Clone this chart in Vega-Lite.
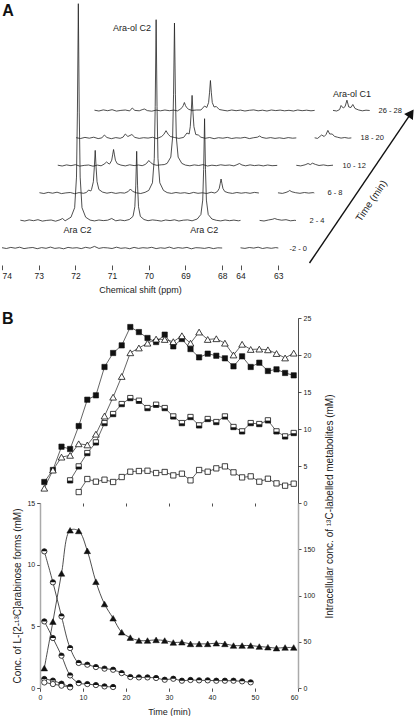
{
"$schema": "https://vega.github.io/schema/vega-lite/v6.json",
"padding": 0,
"background": "white",
"config": {
 "view": {"stroke": null},
 "font": "Liberation Sans",
 "axis": {"grid": false, "labelFont": "Liberation Sans", "titleFont": "Liberation Sans", "labelColor": "#222", "titleColor": "#222", "tickColor": "#222", "domainColor": "#222", "titleFontWeight": "normal", "labelOverlap": false, "tickWidth": 0.8, "domainWidth": 0.8},
 "text": {"font": "Liberation Sans", "color": "#222"}
},
"datasets": {
 "spectra": [
  {"s":"0a","d":74.00,"h":17.3},{"s":"0a","d":73.88,"h":16.5},{"s":"0a","d":73.76,"h":17.6},{"s":"0a","d":73.64,"h":16.8},{"s":"0a","d":73.52,"h":17.8},{"s":"0a","d":73.40,"h":16.4},{"s":"0a","d":73.28,"h":17.1},{"s":"0a","d":73.16,"h":17.5},{"s":"0a","d":73.04,"h":16.3},{"s":"0a","d":72.92,"h":17.4},{"s":"0a","d":72.80,"h":16.7},{"s":"0a","d":72.68,"h":17.9},{"s":"0a","d":72.56,"h":16.6},{"s":"0a","d":72.44,"h":17.2},{"s":"0a","d":72.32,"h":16.2},{"s":"0a","d":72.20,"h":17.6},{"s":"0a","d":72.08,"h":16.9},{"s":"0a","d":71.96,"h":17.3},{"s":"0a","d":71.84,"h":16.4},{"s":"0a","d":71.72,"h":17.7},{"s":"0a","d":71.60,"h":16.8},{"s":"0a","d":71.48,"h":18.6},{"s":"0a","d":71.36,"h":16.6},{"s":"0a","d":71.24,"h":17.4},{"s":"0a","d":71.12,"h":17.1},{"s":"0a","d":71.00,"h":16.5},{"s":"0a","d":70.88,"h":17.8},{"s":"0a","d":70.76,"h":16.7},{"s":"0a","d":70.64,"h":17.2},{"s":"0a","d":70.52,"h":16.3},{"s":"0a","d":70.40,"h":17.6},{"s":"0a","d":70.28,"h":16.6},{"s":"0a","d":70.16,"h":17.3},{"s":"0a","d":70.04,"h":16.9},{"s":"0a","d":69.92,"h":17.7},{"s":"0a","d":69.80,"h":16.4},{"s":"0a","d":69.68,"h":17.2},{"s":"0a","d":69.56,"h":16.7},{"s":"0a","d":69.44,"h":17.9},{"s":"0a","d":69.32,"h":16.5},{"s":"0a","d":69.20,"h":17.4},{"s":"0a","d":69.08,"h":16.8},{"s":"0a","d":68.96,"h":17.6},{"s":"0a","d":68.84,"h":16.2},{"s":"0a","d":68.72,"h":17.3},{"s":"0a","d":68.60,"h":17.1},{"s":"0a","d":68.48,"h":16.6},{"s":"0a","d":68.36,"h":17.5},{"s":"0a","d":68.24,"h":16.4},{"s":"0a","d":68.12,"h":17.2},{"s":"0a","d":68.00,"h":17.0},
  {"s":"0b","d":67.50,"h":17.2},{"s":"0b","d":67.38,"h":16.6},{"s":"0b","d":67.26,"h":17.5},{"s":"0b","d":67.14,"h":16.9},{"s":"0b","d":67.02,"h":17.8},{"s":"0b","d":66.90,"h":16.5},{"s":"0b","d":66.78,"h":17.3},{"s":"0b","d":66.66,"h":16.7},{"s":"0b","d":66.54,"h":17.4},{"s":"0b","d":66.47,"h":17.0},
  {"s":"1a","d":73.50,"h":44.8},{"s":"1a","d":73.38,"h":44.0},{"s":"1a","d":73.26,"h":45.1},{"s":"1a","d":73.14,"h":44.3},{"s":"1a","d":73.02,"h":45.3},{"s":"1a","d":72.90,"h":43.9},{"s":"1a","d":72.78,"h":44.6},{"s":"1a","d":72.66,"h":45.0},{"s":"1a","d":72.54,"h":43.8},{"s":"1a","d":72.42,"h":45.2},{"s":"1a","d":72.35,"h":46.5},{"s":"1a","d":72.28,"h":44.2},{"s":"1a","d":72.12,"h":47.8},{"s":"1a","d":72.02,"h":57.3},{"s":"1a","d":71.97,"h":87.9},{"s":"1a","d":71.945,"h":152.9},{"s":"1a","d":71.92,"h":261.3},{"s":"1a","d":71.895,"h":152.9},{"s":"1a","d":71.87,"h":87.9},{"s":"1a","d":71.82,"h":57.3},{"s":"1a","d":71.72,"h":47.8},{"s":"1a","d":71.60,"h":44.9},{"s":"1a","d":71.48,"h":44.1},{"s":"1a","d":71.36,"h":45.0},{"s":"1a","d":71.24,"h":44.4},{"s":"1a","d":71.12,"h":44.8},{"s":"1a","d":71.01,"h":46.5},{"s":"1a","d":70.90,"h":44.2},{"s":"1a","d":70.78,"h":45.0},{"s":"1a","d":70.66,"h":44.3},{"s":"1a","d":70.53,"h":45.5},{"s":"1a","d":70.43,"h":48.6},{"s":"1a","d":70.38,"h":58.3},{"s":"1a","d":70.355,"h":79.1},{"s":"1a","d":70.33,"h":113.7},{"s":"1a","d":70.305,"h":79.1},{"s":"1a","d":70.28,"h":58.3},{"s":"1a","d":70.23,"h":48.6},{"s":"1a","d":70.13,"h":45.5},{"s":"1a","d":70.02,"h":44.3},{"s":"1a","d":69.90,"h":45.1},{"s":"1a","d":69.78,"h":44.6},{"s":"1a","d":69.66,"h":43.9},{"s":"1a","d":69.54,"h":45.0},{"s":"1a","d":69.42,"h":44.4},{"s":"1a","d":69.30,"h":45.2},{"s":"1a","d":69.18,"h":44.0},{"s":"1a","d":69.06,"h":44.8},{"s":"1a","d":68.94,"h":45.1},{"s":"1a","d":68.82,"h":44.2},{"s":"1a","d":68.68,"h":46.0},{"s":"1a","d":68.58,"h":50.5},{"s":"1a","d":68.53,"h":64.9},{"s":"1a","d":68.505,"h":95.4},{"s":"1a","d":68.48,"h":146.3},{"s":"1a","d":68.455,"h":95.4},{"s":"1a","d":68.43,"h":64.9},{"s":"1a","d":68.38,"h":50.5},{"s":"1a","d":68.28,"h":46.0},{"s":"1a","d":68.16,"h":44.7},{"s":"1a","d":68.04,"h":44.1},{"s":"1a","d":67.92,"h":45.0},{"s":"1a","d":67.80,"h":44.3},{"s":"1a","d":67.68,"h":44.9},{"s":"1a","d":67.56,"h":44.2},{"s":"1a","d":67.50,"h":44.6},
  {"s":"1b","d":66.98,"h":44.6},{"s":"1b","d":66.86,"h":44.0},{"s":"1b","d":66.74,"h":45.0},{"s":"1b","d":66.62,"h":45.8},{"s":"1b","d":66.57,"h":46.5},{"s":"1b","d":66.50,"h":45.6},{"s":"1b","d":66.38,"h":44.8},{"s":"1b","d":66.26,"h":45.3},{"s":"1b","d":66.14,"h":44.2},{"s":"1b","d":66.02,"h":44.7},{"s":"1b","d":65.99,"h":44.5},
  {"s":"2a","d":72.98,"h":72.3},{"s":"2a","d":72.86,"h":71.5},{"s":"2a","d":72.74,"h":72.6},{"s":"2a","d":72.62,"h":71.8},{"s":"2a","d":72.50,"h":72.8},{"s":"2a","d":72.38,"h":71.4},{"s":"2a","d":72.26,"h":72.1},{"s":"2a","d":72.14,"h":72.5},{"s":"2a","d":72.02,"h":71.3},{"s":"2a","d":71.90,"h":72.4},{"s":"2a","d":71.78,"h":71.7},{"s":"2a","d":71.70,"h":72.5},{"s":"2a","d":71.64,"h":75.0},{"s":"2a","d":71.58,"h":74.0},{"s":"2a","d":71.56,"h":75.5},{"s":"2a","d":71.51,"h":83.3},{"s":"2a","d":71.485,"h":97.1},{"s":"2a","d":71.46,"h":114.6},{"s":"2a","d":71.435,"h":97.1},{"s":"2a","d":71.41,"h":83.3},{"s":"2a","d":71.36,"h":75.5},{"s":"2a","d":71.26,"h":72.9},{"s":"2a","d":71.14,"h":71.8},{"s":"2a","d":71.02,"h":72.6},{"s":"2a","d":70.90,"h":71.6},{"s":"2a","d":70.78,"h":72.3},{"s":"2a","d":70.66,"h":71.9},{"s":"2a","d":70.56,"h":73.5},{"s":"2a","d":70.50,"h":76.0},{"s":"2a","d":70.44,"h":73.6},{"s":"2a","d":70.34,"h":72.2},{"s":"2a","d":70.22,"h":71.5},{"s":"2a","d":70.10,"h":72.7},{"s":"2a","d":70.00,"h":74.6},{"s":"2a","d":69.90,"h":82.2},{"s":"2a","d":69.85,"h":106.7},{"s":"2a","d":69.825,"h":158.7},{"s":"2a","d":69.80,"h":245.3},{"s":"2a","d":69.775,"h":158.7},{"s":"2a","d":69.75,"h":106.7},{"s":"2a","d":69.70,"h":82.2},{"s":"2a","d":69.60,"h":74.6},{"s":"2a","d":69.50,"h":72.4},{"s":"2a","d":69.38,"h":71.6},{"s":"2a","d":69.26,"h":72.5},{"s":"2a","d":69.14,"h":71.8},{"s":"2a","d":69.02,"h":72.3},{"s":"2a","d":68.90,"h":71.4},{"s":"2a","d":68.78,"h":72.6},{"s":"2a","d":68.66,"h":71.7},{"s":"2a","d":68.54,"h":72.2},{"s":"2a","d":68.42,"h":71.5},{"s":"2a","d":68.30,"h":72.8},{"s":"2a","d":68.20,"h":72.0},{"s":"2a","d":68.13,"h":73.5},{"s":"2a","d":68.08,"h":76.6},{"s":"2a","d":68.055,"h":81.2},{"s":"2a","d":68.03,"h":86.0},{"s":"2a","d":68.005,"h":81.2},{"s":"2a","d":67.98,"h":76.6},{"s":"2a","d":67.93,"h":73.5},{"s":"2a","d":67.84,"h":72.3},{"s":"2a","d":67.72,"h":71.6},{"s":"2a","d":67.60,"h":72.5},{"s":"2a","d":67.48,"h":71.8},{"s":"2a","d":67.36,"h":72.4},{"s":"2a","d":67.24,"h":71.7},{"s":"2a","d":67.12,"h":72.6},{"s":"2a","d":67.00,"h":72.0},
  {"s":"2b","d":66.48,"h":72.2},{"s":"2b","d":66.36,"h":71.6},{"s":"2b","d":66.26,"h":72.6},{"s":"2b","d":66.20,"h":73.5},{"s":"2b","d":66.16,"h":74.5},{"s":"2b","d":66.10,"h":73.2},{"s":"2b","d":66.00,"h":72.3},{"s":"2b","d":65.88,"h":71.7},{"s":"2b","d":65.76,"h":72.5},{"s":"2b","d":65.64,"h":71.9},{"s":"2b","d":65.52,"h":72.4},{"s":"2b","d":65.49,"h":72.0},
  {"s":"3a","d":72.48,"h":99.8},{"s":"3a","d":72.36,"h":99.0},{"s":"3a","d":72.24,"h":100.1},{"s":"3a","d":72.12,"h":99.3},{"s":"3a","d":72.00,"h":100.3},{"s":"3a","d":71.88,"h":98.9},{"s":"3a","d":71.76,"h":99.6},{"s":"3a","d":71.64,"h":100.0},{"s":"3a","d":71.52,"h":98.8},{"s":"3a","d":71.40,"h":99.9},{"s":"3a","d":71.30,"h":99.2},{"s":"3a","d":71.22,"h":100.8},{"s":"3a","d":71.15,"h":103.0},{"s":"3a","d":71.08,"h":101.0},{"s":"3a","d":71.06,"h":101.3},{"s":"3a","d":71.01,"h":104.8},{"s":"3a","d":70.985,"h":110.1},{"s":"3a","d":70.96,"h":115.5},{"s":"3a","d":70.935,"h":110.1},{"s":"3a","d":70.91,"h":104.8},{"s":"3a","d":70.86,"h":101.3},{"s":"3a","d":70.76,"h":99.9},{"s":"3a","d":70.64,"h":99.1},{"s":"3a","d":70.52,"h":100.2},{"s":"3a","d":70.40,"h":99.4},{"s":"3a","d":70.28,"h":100.0},{"s":"3a","d":70.18,"h":99.3},{"s":"3a","d":70.10,"h":100.5},{"s":"3a","d":70.05,"h":102.0},{"s":"3a","d":70.00,"h":104.5},{"s":"3a","d":69.95,"h":102.5},{"s":"3a","d":69.88,"h":100.6},{"s":"3a","d":69.78,"h":99.7},{"s":"3a","d":69.66,"h":100.2},{"s":"3a","d":69.58,"h":100.4},{"s":"3a","d":69.50,"h":101.6},{"s":"3a","d":69.40,"h":107.9},{"s":"3a","d":69.35,"h":128.0},{"s":"3a","d":69.325,"h":170.8},{"s":"3a","d":69.30,"h":242.0},{"s":"3a","d":69.275,"h":170.8},{"s":"3a","d":69.25,"h":128.0},{"s":"3a","d":69.20,"h":107.9},{"s":"3a","d":69.10,"h":101.6},{"s":"3a","d":69.00,"h":99.9},{"s":"3a","d":68.88,"h":99.2},{"s":"3a","d":68.76,"h":100.1},{"s":"3a","d":68.64,"h":99.5},{"s":"3a","d":68.52,"h":100.4},{"s":"3a","d":68.40,"h":99.0},{"s":"3a","d":68.28,"h":99.8},{"s":"3a","d":68.16,"h":99.3},{"s":"3a","d":68.04,"h":100.2},{"s":"3a","d":67.92,"h":99.6},{"s":"3a","d":67.80,"h":100.0},{"s":"3a","d":67.68,"h":99.1},{"s":"3a","d":67.60,"h":100.3},{"s":"3a","d":67.53,"h":101.5},{"s":"3a","d":67.46,"h":100.0},{"s":"3a","d":67.36,"h":99.2},{"s":"3a","d":67.24,"h":100.1},{"s":"3a","d":67.12,"h":99.4},{"s":"3a","d":67.00,"h":99.9},{"s":"3a","d":66.88,"h":99.1},{"s":"3a","d":66.76,"h":100.0},{"s":"3a","d":66.64,"h":99.3},{"s":"3a","d":66.50,"h":99.6},
  {"s":"3b","d":65.98,"h":99.7},{"s":"3b","d":65.86,"h":99.1},{"s":"3b","d":65.74,"h":100.2},{"s":"3b","d":65.66,"h":101.5},{"s":"3b","d":65.60,"h":100.4},{"s":"3b","d":65.54,"h":101.8},{"s":"3b","d":65.46,"h":100.6},{"s":"3b","d":65.36,"h":99.5},{"s":"3b","d":65.24,"h":100.1},{"s":"3b","d":65.12,"h":99.3},{"s":"3b","d":64.98,"h":99.8},
  {"s":"4a","d":71.98,"h":127.3},{"s":"4a","d":71.86,"h":126.5},{"s":"4a","d":71.74,"h":127.6},{"s":"4a","d":71.62,"h":126.8},{"s":"4a","d":71.50,"h":127.8},{"s":"4a","d":71.38,"h":126.4},{"s":"4a","d":71.28,"h":127.1},{"s":"4a","d":71.21,"h":130.0},{"s":"4a","d":71.14,"h":127.5},{"s":"4a","d":71.02,"h":126.3},{"s":"4a","d":70.90,"h":127.4},{"s":"4a","d":70.78,"h":126.7},{"s":"4a","d":70.70,"h":127.9},{"s":"4a","d":70.64,"h":131.0},{"s":"4a","d":70.57,"h":128.5},{"s":"4a","d":70.46,"h":130.5},{"s":"4a","d":70.38,"h":127.6},{"s":"4a","d":70.26,"h":126.6},{"s":"4a","d":70.14,"h":127.3},{"s":"4a","d":70.02,"h":126.9},{"s":"4a","d":69.90,"h":127.7},{"s":"4a","d":69.78,"h":126.4},{"s":"4a","d":69.65,"h":128.5},{"s":"4a","d":69.59,"h":130.6},{"s":"4a","d":69.53,"h":134.3},{"s":"4a","d":69.47,"h":130.6},{"s":"4a","d":69.41,"h":128.5},{"s":"4a","d":69.30,"h":127.5},{"s":"4a","d":69.18,"h":126.6},{"s":"4a","d":69.05,"h":127.6},{"s":"4a","d":68.96,"h":132.0},{"s":"4a","d":68.90,"h":131.0},{"s":"4a","d":68.87,"h":138.3},{"s":"4a","d":68.845,"h":152.1},{"s":"4a","d":68.82,"h":169.6},{"s":"4a","d":68.795,"h":152.1},{"s":"4a","d":68.77,"h":138.3},{"s":"4a","d":68.72,"h":130.5},{"s":"4a","d":68.65,"h":130.0},{"s":"4a","d":68.58,"h":127.8},{"s":"4a","d":68.46,"h":126.7},{"s":"4a","d":68.34,"h":127.5},{"s":"4a","d":68.22,"h":126.3},{"s":"4a","d":68.10,"h":127.3},{"s":"4a","d":67.98,"h":126.8},{"s":"4a","d":67.86,"h":127.6},{"s":"4a","d":67.74,"h":126.5},{"s":"4a","d":67.62,"h":127.2},{"s":"4a","d":67.50,"h":126.9},{"s":"4a","d":67.38,"h":127.7},{"s":"4a","d":67.26,"h":126.4},{"s":"4a","d":67.14,"h":127.3},{"s":"4a","d":67.04,"h":127.8},{"s":"4a","d":66.98,"h":129.0},{"s":"4a","d":66.92,"h":127.6},{"s":"4a","d":66.80,"h":126.7},{"s":"4a","d":66.68,"h":127.4},{"s":"4a","d":66.56,"h":126.6},{"s":"4a","d":66.44,"h":127.2},{"s":"4a","d":66.32,"h":126.5},{"s":"4a","d":66.20,"h":127.4},{"s":"4a","d":66.08,"h":126.8},{"s":"4a","d":65.98,"h":127.1},
  {"s":"4b","d":65.48,"h":127.2},{"s":"4b","d":65.40,"h":126.6},{"s":"4b","d":65.29,"h":130.0},{"s":"4b","d":65.22,"h":128.5},{"s":"4b","d":65.17,"h":130.5},{"s":"4b","d":65.12,"h":134.6},{"s":"4b","d":65.07,"h":131.0},{"s":"4b","d":65.00,"h":131.0},{"s":"4b","d":64.94,"h":128.6},{"s":"4b","d":64.86,"h":127.8},{"s":"4b","d":64.76,"h":126.9},{"s":"4b","d":64.66,"h":127.5},{"s":"4b","d":64.56,"h":126.8},{"s":"4b","d":64.48,"h":127.1},
  {"s":"5a","d":71.48,"h":154.8},{"s":"5a","d":71.36,"h":154.0},{"s":"5a","d":71.24,"h":155.1},{"s":"5a","d":71.12,"h":154.3},{"s":"5a","d":71.00,"h":155.3},{"s":"5a","d":70.88,"h":153.9},{"s":"5a","d":70.76,"h":154.6},{"s":"5a","d":70.64,"h":155.0},{"s":"5a","d":70.52,"h":154.1},{"s":"5a","d":70.45,"h":157.0},{"s":"5a","d":70.38,"h":154.6},{"s":"5a","d":70.26,"h":154.2},{"s":"5a","d":70.18,"h":155.3},{"s":"5a","d":70.12,"h":156.0},{"s":"5a","d":70.04,"h":154.4},{"s":"5a","d":69.92,"h":153.8},{"s":"5a","d":69.80,"h":154.9},{"s":"5a","d":69.68,"h":154.2},{"s":"5a","d":69.56,"h":155.0},{"s":"5a","d":69.44,"h":154.3},{"s":"5a","d":69.32,"h":154.9},{"s":"5a","d":69.22,"h":154.1},{"s":"5a","d":69.15,"h":155.6},{"s":"5a","d":69.09,"h":157.5},{"s":"5a","d":69.06,"h":159.5},{"s":"5a","d":69.03,"h":162.5},{"s":"5a","d":69.00,"h":159.5},{"s":"5a","d":68.97,"h":157.5},{"s":"5a","d":68.91,"h":155.6},{"s":"5a","d":68.82,"h":154.6},{"s":"5a","d":68.70,"h":155.0},{"s":"5a","d":68.58,"h":155.0},{"s":"5a","d":68.48,"h":159.0},{"s":"5a","d":68.42,"h":157.5},{"s":"5a","d":68.37,"h":162.5},{"s":"5a","d":68.345,"h":172.2},{"s":"5a","d":68.32,"h":184.5},{"s":"5a","d":68.295,"h":172.2},{"s":"5a","d":68.27,"h":162.5},{"s":"5a","d":68.22,"h":158.0},{"s":"5a","d":68.16,"h":158.5},{"s":"5a","d":68.08,"h":155.5},{"s":"5a","d":67.98,"h":154.8},{"s":"5a","d":67.86,"h":154.1},{"s":"5a","d":67.74,"h":155.0},{"s":"5a","d":67.62,"h":154.3},{"s":"5a","d":67.50,"h":154.9},{"s":"5a","d":67.38,"h":154.0},{"s":"5a","d":67.26,"h":154.7},{"s":"5a","d":67.14,"h":155.1},{"s":"5a","d":67.02,"h":154.2},{"s":"5a","d":66.90,"h":154.8},{"s":"5a","d":66.78,"h":154.0},{"s":"5a","d":66.66,"h":155.0},{"s":"5a","d":66.54,"h":154.4},{"s":"5a","d":66.42,"h":154.9},{"s":"5a","d":66.30,"h":154.2},{"s":"5a","d":66.18,"h":154.7},{"s":"5a","d":66.06,"h":154.0},{"s":"5a","d":65.94,"h":155.0},{"s":"5a","d":65.82,"h":154.3},{"s":"5a","d":65.70,"h":154.8},{"s":"5a","d":65.58,"h":154.2},{"s":"5a","d":65.48,"h":154.6},
  {"s":"5b","d":64.98,"h":154.6},{"s":"5b","d":64.88,"h":154.0},{"s":"5b","d":64.80,"h":155.4},{"s":"5b","d":64.76,"h":159.5},{"s":"5b","d":64.70,"h":157.0},{"s":"5b","d":64.65,"h":158.5},{"s":"5b","d":64.60,"h":164.8},{"s":"5b","d":64.55,"h":158.0},{"s":"5b","d":64.49,"h":157.5},{"s":"5b","d":64.44,"h":160.5},{"s":"5b","d":64.38,"h":156.5},{"s":"5b","d":64.28,"h":155.0},{"s":"5b","d":64.18,"h":154.2},{"s":"5b","d":64.08,"h":154.8},{"s":"5b","d":63.98,"h":154.5}
 ],
 "annot": [
  {"d":70.46,"h":237,"text":"Ara-ol C2"},
  {"d":71.94,"h":35.3,"text":"Ara C2"},
  {"d":68.49,"h":35.3,"text":"Ara C2"},
  {"d":64.46,"h":171,"text":"Ara-ol C1"}
 ],
 "slices": [
  {"d":66.165,"h":16,"text":"-2 - 0"},
  {"d":65.62,"h":43.6,"text":"2 - 4"},
  {"d":65.13,"h":72,"text":"6 - 8"},
  {"d":64.72,"h":99.3,"text":"10 - 12"},
  {"d":64.23,"h":127,"text":"18 - 20"},
  {"d":63.74,"h":153.6,"text":"26 - 28"}
 ],
 "top": [
  {"s":"sq","t":1,"v":2.84},{"s":"sq","t":3,"v":4.46},{"s":"sq","t":5,"v":7.61},{"s":"sq","t":7,"v":7.3},{"s":"sq","t":9,"v":10.4},{"s":"sq","t":11,"v":13.96},{"s":"sq","t":13,"v":14.55},{"s":"sq","t":15,"v":18.38},{"s":"sq","t":17,"v":20.27},{"s":"sq","t":19,"v":21.3},{"s":"sq","t":21,"v":23.78},{"s":"sq","t":23,"v":23.1},{"s":"sq","t":25,"v":22.3},{"s":"sq","t":27,"v":21.75},{"s":"sq","t":29,"v":22.75},{"s":"sq","t":31,"v":21.17},{"s":"sq","t":33,"v":22.16},{"s":"sq","t":35,"v":20.8},{"s":"sq","t":37,"v":19.68},{"s":"sq","t":39,"v":20.18},{"s":"sq","t":41,"v":19.9},{"s":"sq","t":43,"v":19.55},{"s":"sq","t":45,"v":18.47},{"s":"sq","t":47,"v":19.82},{"s":"sq","t":49,"v":18.38},{"s":"sq","t":51,"v":18.96},{"s":"sq","t":53,"v":17.84},{"s":"sq","t":55,"v":18.06},{"s":"sq","t":57,"v":17.57},{"s":"sq","t":59,"v":17.25},
  {"s":"tri","t":1,"v":2.0},{"s":"tri","t":3,"v":4.45},{"s":"tri","t":5,"v":6.2},{"s":"tri","t":7,"v":6.44},{"s":"tri","t":9,"v":8.0},{"s":"tri","t":11,"v":7.85},{"s":"tri","t":13,"v":9.3},{"s":"tri","t":15,"v":11.75},{"s":"tri","t":17,"v":14.3},{"s":"tri","t":19,"v":17.1},{"s":"tri","t":21,"v":20.3},{"s":"tri","t":23,"v":20.95},{"s":"tri","t":25,"v":21.6},{"s":"tri","t":27,"v":22.15},{"s":"tri","t":29,"v":22.1},{"s":"tri","t":31,"v":21.8},{"s":"tri","t":33,"v":22.6},{"s":"tri","t":35,"v":21.6},{"s":"tri","t":37,"v":23.1},{"s":"tri","t":39,"v":22.1},{"s":"tri","t":41,"v":22.2},{"s":"tri","t":43,"v":21.6},{"s":"tri","t":45,"v":20.0},{"s":"tri","t":47,"v":21.45},{"s":"tri","t":49,"v":20.75},{"s":"tri","t":51,"v":20.8},{"s":"tri","t":53,"v":20.7},{"s":"tri","t":55,"v":20.2},{"s":"tri","t":57,"v":19.6},{"s":"tri","t":59,"v":20.25},
  {"s":"half","t":7,"v":3.06},{"s":"half","t":9,"v":4.95},{"s":"half","t":11,"v":6.75},{"s":"half","t":13,"v":8.19},{"s":"half","t":15,"v":10.8},{"s":"half","t":17,"v":12.02},{"s":"half","t":19,"v":13.37},{"s":"half","t":21,"v":14.18},{"s":"half","t":23,"v":13.82},{"s":"half","t":25,"v":12.83},{"s":"half","t":27,"v":13.28},{"s":"half","t":29,"v":12.83},{"s":"half","t":31,"v":11.7},{"s":"half","t":33,"v":10.8},{"s":"half","t":35,"v":11.62},{"s":"half","t":37,"v":10.49},{"s":"half","t":39,"v":11.35},{"s":"half","t":41,"v":10.94},{"s":"half","t":43,"v":11.7},{"s":"half","t":45,"v":10.27},{"s":"half","t":47,"v":9.68},{"s":"half","t":49,"v":10.8},{"s":"half","t":51,"v":10.67},{"s":"half","t":53,"v":11.17},{"s":"half","t":55,"v":9.68},{"s":"half","t":57,"v":9.0},{"s":"half","t":59,"v":9.46},
  {"s":"open","t":9,"v":1.48},{"s":"open","t":11,"v":3.24},{"s":"open","t":13,"v":2.88},{"s":"open","t":15,"v":3.15},{"s":"open","t":17,"v":2.84},{"s":"open","t":19,"v":3.51},{"s":"open","t":21,"v":4.23},{"s":"open","t":23,"v":4.32},{"s":"open","t":25,"v":4.36},{"s":"open","t":27,"v":4.05},{"s":"open","t":29,"v":4.19},{"s":"open","t":31,"v":3.73},{"s":"open","t":33,"v":3.96},{"s":"open","t":35,"v":3.06},{"s":"open","t":37,"v":4.46},{"s":"open","t":39,"v":4.23},{"s":"open","t":41,"v":4.68},{"s":"open","t":43,"v":4.95},{"s":"open","t":45,"v":4.14},{"s":"open","t":47,"v":3.46},{"s":"open","t":49,"v":3.6},{"s":"open","t":51,"v":2.88},{"s":"open","t":53,"v":3.28},{"s":"open","t":55,"v":2.65},{"s":"open","t":57,"v":2.34},{"s":"open","t":59,"v":2.61}
 ],
 "circ": [
  {"s":"c1","t":1,"v":11.08},{"s":"c1","t":3,"v":8.57},{"s":"c1","t":5,"v":5.81},{"s":"c1","t":7,"v":3.24},{"s":"c1","t":9,"v":2.03},{"s":"c1","t":11,"v":1.89},{"s":"c1","t":13,"v":1.70},{"s":"c1","t":15,"v":1.57},{"s":"c1","t":17,"v":1.48},{"s":"c1","t":19,"v":1.21},{"s":"c1","t":21,"v":0.89},{"s":"c1","t":23,"v":0.86},{"s":"c1","t":25,"v":0.86},{"s":"c1","t":27,"v":0.81},{"s":"c1","t":29,"v":0.67},{"s":"c1","t":31,"v":0.75},{"s":"c1","t":33,"v":0.59},{"s":"c1","t":35,"v":0.65},{"s":"c1","t":37,"v":0.62},{"s":"c1","t":39,"v":0.62},{"s":"c1","t":41,"v":0.59},{"s":"c1","t":43,"v":0.59},{"s":"c1","t":45,"v":0.59},{"s":"c1","t":47,"v":0.54},{"s":"c1","t":49,"v":0.46},
  {"s":"c2","t":1,"v":5.40},{"s":"c2","t":3,"v":4.05},{"s":"c2","t":5,"v":2.62},{"s":"c2","t":7,"v":1.02},{"s":"c2","t":9,"v":0.40},{"s":"c2","t":11,"v":0.32},{"s":"c2","t":13,"v":0.24},{"s":"c2","t":15,"v":0.13},{"s":"c2","t":17,"v":0.08},
  {"s":"c3","t":1,"v":0.73},{"s":"c3","t":3,"v":0.60},{"s":"c3","t":5,"v":0.35},{"s":"c3","t":7,"v":0.10},
  {"s":"c4","t":1,"v":0.45},{"s":"c4","t":3,"v":0.32},{"s":"c4","t":5,"v":0.19},{"s":"c4","t":7,"v":0.05}
 ],
 "tri": [
  {"t":1,"v":21.5},{"t":3,"v":71.8},{"t":5,"v":123.9},{"t":7,"v":170.5},{"t":9,"v":169.8},{"t":11,"v":148.3},{"t":13,"v":114.9},{"t":15,"v":90.8},{"t":17,"v":75.4},{"t":19,"v":60.3},{"t":21,"v":54.5},{"t":23,"v":51.3},{"t":25,"v":51.3},{"t":27,"v":52.0},{"t":29,"v":51.3},{"t":31,"v":49.2},{"t":33,"v":49.5},{"t":35,"v":47.7},{"t":37,"v":47.7},{"t":39,"v":47.7},{"t":41,"v":48.4},{"t":43,"v":47.7},{"t":45,"v":45.9},{"t":47,"v":45.9},{"t":49,"v":45.9},{"t":51,"v":44.8},{"t":53,"v":44.1},{"t":55,"v":43.1},{"t":57,"v":43.8},{"t":59,"v":43.8}
 ]
},
"bounds": "flush",
"spacing": 53,
"vconcat": [
 {
  "width": 411,
  "height": 265,
  "encoding": {
   "x": {"field": "d", "type": "quantitative", "scale": {"domain": [62.8, 74], "reverse": true, "nice": false, "zero": false},
    "axis": {"values": [74,73,72,71,70,69,68,67.5,66.47], "domain": false, "tickSize": 4.7, "labelFontSize": 8.5, "labelPadding": 2, "labelExpr": "datum.value > 67.9 ? format(datum.value, 'd') : (datum.value > 67 ? '64' : '63')", "title": "Chemical shift (ppm)", "titleFontSize": 9, "titleX": 138, "titleY": 20, "titleBaseline": "top", "titleAlign": "center"}},
   "y": {"field": "h", "type": "quantitative", "scale": {"domain": [0, 265], "nice": false, "zero": false}, "axis": null}
  },
  "layer": [
   {"data": {"name": "spectra"}, "mark": {"type": "line", "color": "#222", "strokeWidth": 0.8}, "encoding": {"detail": {"field": "s"}}},
   {"data": {"values": [{"d": 74, "d2": 68}, {"d": 67.5, "d2": 66.47}]}, "mark": {"type": "rule", "color": "#222", "strokeWidth": 0.9}, "encoding": {"x2": {"field": "d2"}, "y": {"datum": 0}}},
   {"data": {"name": "annot"}, "mark": {"type": "text", "fontSize": 9, "align": "center", "baseline": "middle", "color": "#222"}, "encoding": {"text": {"field": "text"}}},
   {"data": {"name": "slices"}, "mark": {"type": "text", "fontSize": 7.5, "align": "left", "baseline": "middle", "color": "#222"}, "encoding": {"text": {"field": "text"}}},
   {"data": {"values": [{"d": 73.99, "h": 262.2, "text": "A"}]}, "mark": {"type": "text", "fontSize": 16, "fontWeight": "bold", "align": "left", "baseline": "top", "color": "#111"}, "encoding": {"text": {"field": "text"}}},
   {"data": {"values": [{"d": 65.62, "h": 2}, {"d": 62.86, "h": 151.4}]}, "mark": {"type": "line", "color": "#111", "strokeWidth": 1.4}, "encoding": {}},
   {"data": {"values": [{"d": 62.86, "h": 151.4}]}, "mark": {"type": "point", "shape": "triangle-up", "angle": 34, "filled": true, "fill": "#111", "stroke": "#111", "size": 50, "opacity": 1}},
   {"data": {"values": [{"d": 63.93, "h": 64, "text": "Time (min)"}]}, "mark": {"type": "text", "fontSize": 10, "angle": 304, "align": "center", "baseline": "middle", "color": "#222"}, "encoding": {"text": {"field": "text"}}}
  ]
 },
 {
  "spacing": 0,
  "bounds": "flush",
  "vconcat": [
   {
    "width": 296,
    "height": 185,
    "encoding": {
     "x": {"field": "t", "type": "quantitative", "scale": {"domain": [-8.84, 60], "nice": false, "zero": false},
      "axis": {"values": [0,10,20,30,40,50,60], "labels": false, "domain": false, "tickSize": 3, "title": null}},
     "y": {"field": "v", "type": "quantitative", "scale": {"domain": [0, 25], "nice": false, "zero": false},
      "axis": {"orient": "right", "values": [0,5,10,15,20,25], "tickSize": 3, "labelFontSize": 7, "labelPadding": 2, "title": null, "domainColor": "#222"}}
    },
    "layer": [
     {"data": {"values": [{}]}, "mark": {"type": "rule", "color": "#999", "strokeWidth": 1}, "encoding": {"x": {"datum": 0}, "x2": {"datum": 60}, "y": {"datum": 25}}},
     {"data": {"values": [{}]}, "mark": {"type": "rule", "color": "#999", "strokeWidth": 1.3}, "encoding": {"x": {"datum": 0}, "y": {"datum": 0}, "y2": {"datum": 25}}},
     {"data": {"values": [{}]}, "mark": {"type": "rule", "color": "#222", "strokeWidth": 0.9}, "encoding": {"x": {"datum": 0}, "x2": {"datum": 60}, "y": {"datum": 0}}},
     {"data": {"name": "top"}, "mark": {"type": "line", "color": "#222", "strokeWidth": 0.7}, "encoding": {"detail": {"field": "s"}}},
     {"data": {"name": "top"}, "transform": [{"filter": "datum.s == 'sq'"}], "mark": {"type": "point", "shape": "square", "filled": true, "fill": "#111", "stroke": "#111", "strokeWidth": 0.6, "size": 28, "opacity": 1}},
     {"data": {"name": "top"}, "transform": [{"filter": "datum.s == 'tri'"}], "mark": {"type": "point", "shape": "triangle-up", "filled": true, "fill": "white", "stroke": "#111", "strokeWidth": 0.8, "size": 45, "opacity": 1}},
     {"data": {"name": "top"}, "transform": [{"filter": "datum.s == 'half' || datum.s == 'open'"}], "mark": {"type": "point", "shape": "square", "filled": true, "fill": "white", "stroke": "#111", "strokeWidth": 0.8, "size": 28, "opacity": 1}},
     {"data": {"name": "top"}, "transform": [{"filter": "datum.s == 'half'"}], "mark": {"type": "point", "shape": "M -1 0.1 L 1 0.1 L 1 1 L -1 1 Z", "filled": true, "fill": "#111", "strokeWidth": 0, "size": 28, "opacity": 1}},
     {"data": {"values": [{"t": -8.84, "v": 25.92, "text": "B"}]}, "mark": {"type": "text", "fontSize": 16, "fontWeight": "bold", "align": "left", "baseline": "top", "color": "#111"}, "encoding": {"text": {"field": "text"}}}
    ]
   },
   {
    "width": 296,
    "height": 185,
    "encoding": {
     "x": {"field": "t", "type": "quantitative", "scale": {"domain": [-8.84, 60], "nice": false, "zero": false},
      "axis": {"values": [0,10,20,30,40,50,60], "domain": false, "tickSize": 3.3, "labelFontSize": 7, "labelPadding": 2, "title": "Time (min)", "titleFontSize": 9, "titleX": 167, "titleY": 19, "titleBaseline": "top", "titleAlign": "center"}}
    },
    "layer": [
     {
      "encoding": {
       "y": {"field": "v", "type": "quantitative", "scale": {"domain": [0, 15], "nice": false, "zero": false},
        "axis": {"orient": "left", "offset": -38, "values": [0,5,10,15], "tickSize": 3.3, "labelFontSize": 7, "labelPadding": 2, "domainColor": "#aaa", "domainWidth": 1.5, "title": "Conc. of L-[2-¹³C]arabinose forms (mM)", "titleFontSize": 10, "titlePadding": 4}}
      },
      "layer": [
       {"data": {"values": [{}]}, "mark": {"type": "rule", "color": "#222", "strokeWidth": 0.9}, "encoding": {"x": {"datum": 0}, "x2": {"datum": 60}, "y": {"datum": 0}}},
       {"data": {"name": "circ"}, "mark": {"type": "line", "color": "#222", "strokeWidth": 0.8, "interpolate": "catmull-rom"}, "encoding": {"detail": {"field": "s"}}},
       {"data": {"name": "circ"}, "mark": {"type": "point", "shape": "circle", "filled": true, "fill": "white", "stroke": "#111", "strokeWidth": 0.8, "size": 28, "opacity": 1}},
       {"data": {"name": "circ"}, "transform": [{"filter": "datum.s != 'c4'"}], "mark": {"type": "point", "shape": "M -1 0 A 1 1 0 0 1 1 0 Z", "filled": true, "fill": "#111", "strokeWidth": 0, "size": 28, "opacity": 1}}
      ]
     },
     {
      "data": {"name": "tri"},
      "encoding": {
       "y": {"field": "v", "type": "quantitative", "scale": {"domain": [0, 200], "nice": false, "zero": false},
        "axis": {"orient": "right", "values": [0,50,100,150], "tickSize": 3, "labelFontSize": 7, "labelPadding": 2, "domainColor": "#aaa", "domainWidth": 1.5, "title": "Intracellular conc. of ¹³C-labelled metabolites (mM)", "titleFontSize": 10, "titleAngle": 270, "titleX": 31, "titleY": 3, "titleAlign": "center", "titleBaseline": "middle"}}
      },
      "layer": [
       {"mark": {"type": "line", "color": "#222", "strokeWidth": 0.8, "interpolate": "catmull-rom"}},
       {"mark": {"type": "point", "shape": "triangle-up", "filled": true, "fill": "#111", "stroke": "#111", "strokeWidth": 0.5, "size": 42, "opacity": 1}}
      ]
     }
    ],
    "resolve": {"scale": {"y": "independent"}}
   }
  ]
 }
]
}
